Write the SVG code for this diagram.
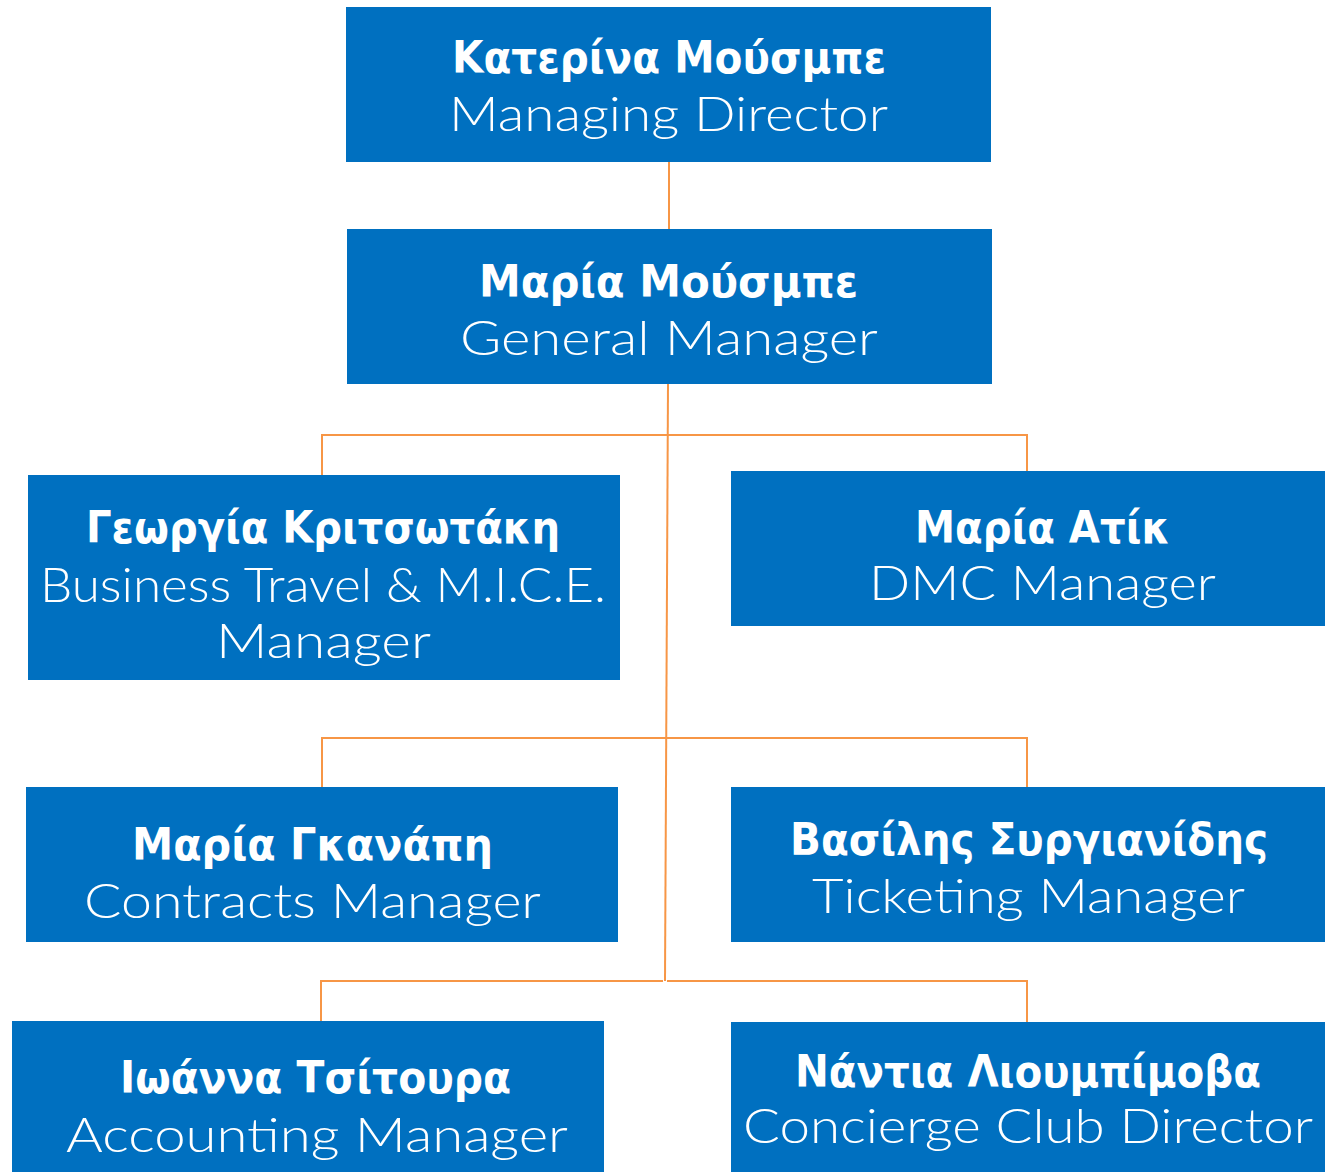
<svg xmlns="http://www.w3.org/2000/svg" width="1325" height="1172" viewBox="0 0 1325 1172">
<style>
.box{fill:#0070C0}
.c{fill:none;stroke:#F79646;stroke-width:2}
.n{font-family:"DejaVu Sans","Liberation Sans",sans-serif;font-weight:bold;font-size:45px;fill:#fff;text-anchor:middle}
.t{font-family:"Lato","DejaVu Sans",sans-serif;font-weight:300;font-size:48px;fill:#fff;text-anchor:middle}
</style>
<rect width="1325" height="1172" fill="#fff"/>
<g id="connectors">
<path class="c" d="M669 162V229"/>
<path class="c" d="M668 384L665 981"/>
<path class="c" d="M322 475V435H1027V471"/>
<path class="c" d="M322 787V738H1027V787"/>
<path class="c" d="M321 1021V981H663"/>
<path class="c" d="M667 981H1027V1022"/>
</g>
<g id="n1"><rect class="box" x="346" y="7" width="645" height="155"/>
<text class="n" x="669" y="73" textLength="434" lengthAdjust="spacingAndGlyphs">Κατερίνα Μούσμπε</text>
<text class="t" x="668.5" y="131" textLength="439" lengthAdjust="spacingAndGlyphs">Managing Director</text></g>
<g id="n2"><rect class="box" x="347" y="229" width="645" height="155"/>
<text class="n" x="668.5" y="297" textLength="379" lengthAdjust="spacingAndGlyphs">Μαρία Μούσμπε</text>
<text class="t" x="669" y="355" textLength="418" lengthAdjust="spacingAndGlyphs">General Manager</text></g>
<g id="n3"><rect class="box" x="28" y="475" width="592" height="205"/>
<text class="n" x="323" y="543" textLength="474" lengthAdjust="spacingAndGlyphs">Γεωργία Κριτσωτάκη</text>
<text class="t" x="323" y="602" textLength="566" lengthAdjust="spacingAndGlyphs">Business Travel &amp; M.I.C.E.</text>
<text class="t" x="323.5" y="658" textLength="215" lengthAdjust="spacingAndGlyphs">Manager</text></g>
<g id="n4"><rect class="box" x="731" y="471" width="594" height="155"/>
<text class="n" x="1042.5" y="543" textLength="255" lengthAdjust="spacingAndGlyphs">Μαρία Ατίκ</text>
<text class="t" x="1042.5" y="600" textLength="347" lengthAdjust="spacingAndGlyphs">DMC Manager</text></g>
<g id="n5"><rect class="box" x="26" y="787" width="592" height="155"/>
<text class="n" x="312.5" y="860" textLength="361" lengthAdjust="spacingAndGlyphs">Μαρία Γκανάπη</text>
<text class="t" x="312.5" y="918" textLength="457" lengthAdjust="spacingAndGlyphs">Contracts Manager</text></g>
<g id="n6"><rect class="box" x="731" y="787" width="594" height="155"/>
<text class="n" x="1029" y="855" textLength="478" lengthAdjust="spacingAndGlyphs">Βασίλης Συργιανίδης</text>
<text class="t" x="1028.5" y="913" textLength="433" lengthAdjust="spacingAndGlyphs">Ticketing Manager</text></g>
<g id="n7"><rect class="box" x="12" y="1021" width="592" height="151"/>
<text class="n" x="315.5" y="1093" textLength="391" lengthAdjust="spacingAndGlyphs">Ιωάννα Τσίτουρα</text>
<text class="t" x="317" y="1152" textLength="502" lengthAdjust="spacingAndGlyphs">Accounting Manager</text></g>
<g id="n8"><rect class="box" x="731" y="1022" width="594" height="150"/>
<text class="n" x="1028" y="1087" textLength="466" lengthAdjust="spacingAndGlyphs">Νάντια Λιουμπίμοβα</text>
<text class="t" x="1028" y="1143" textLength="570" lengthAdjust="spacingAndGlyphs">Concierge Club Director</text></g>
</svg>
